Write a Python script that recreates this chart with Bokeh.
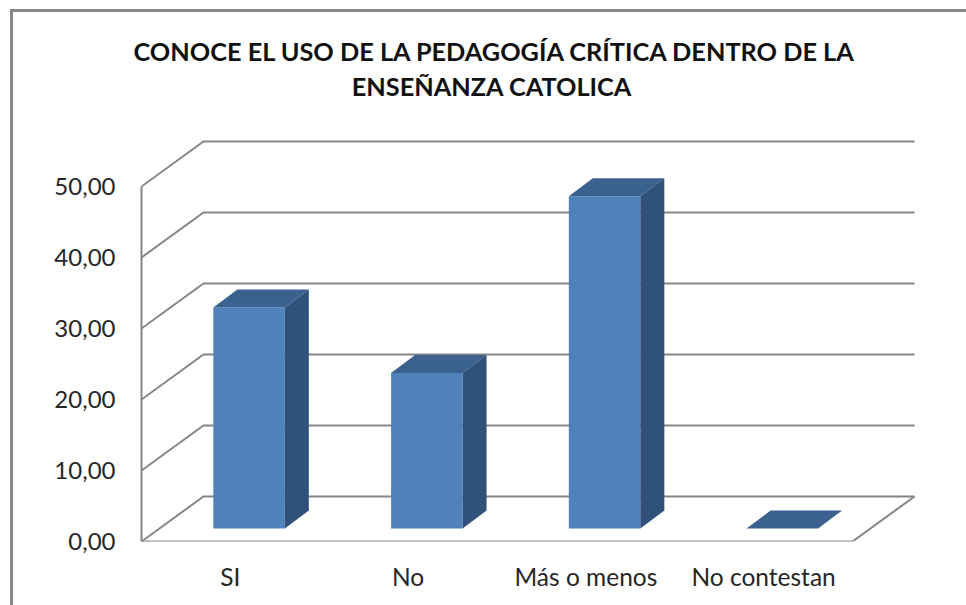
from bokeh.embed import file_html
from bokeh.resources import INLINE
from bokeh.plotting import figure
from bokeh.models import Range1d, FixedTicker, Label, Title

TITLE_LINES = ["CONOCE EL USO DE LA PEDAGOGÍA CRÍTICA DENTRO DE LA", "ENSEÑANZA CATOLICA"]
categories = ["SI", "No", "Más o menos", "No contestan"]
values = [31.11, 21.9, 46.8, 0.0]
y_ticks = [0, 10, 20, 30, 40, 50]
y_labels = ["0,00", "10,00", "20,00", "30,00", "40,00", "50,00"]

PX_X = 177.75      # pixels per category
PX_Y = 7.1         # pixels per value unit
FRAME_TOP = 65
FRAME_W, FRAME_H = 825, 541 - FRAME_TOP
WALL_DX, WALL_DY = 62 / PX_X, 45 / PX_Y   # depth of the 3D box
BAR_DX, BAR_DY = 24 / PX_X, 18 / PX_Y     # depth of a bar
BASE_DX, BASE_DY = 18.7 / PX_X, 13 / PX_Y   # front of the bar vs. front of the floor
BAR_W = 71.5 / PX_X
GRID = "#868686"
FRONT, TOP, SIDE = "#4F81BD", "#3B618F", "#30527A"
TEXT = "#262626"
FONT = "Lato"

n = len(categories)
p = figure(frame_width=FRAME_W, frame_height=FRAME_H,
           x_range=Range1d(0, FRAME_W / PX_X), y_range=Range1d(0, FRAME_H / PX_Y),
           output_backend="svg", toolbar_location=None,
           min_border_left=141, min_border_right=0, min_border_top=FRAME_TOP, min_border_bottom=64,
           background_fill_color=None, border_fill_color="white", outline_line_color=None)
p.xgrid.visible = False
p.ygrid.visible = False

# back wall and side wall gridlines
xs, ys = [], []
for t in y_ticks:
    xs.append([0, WALL_DX, n + WALL_DX])
    ys.append([t, t + WALL_DY, t + WALL_DY])
# floor: front edge and right edge
xs.append([0, n, n + WALL_DX])
ys.append([0, 0, WALL_DY])
p.multi_line(xs, ys, line_color=GRID, line_width=2, line_join="miter")

# bars
lefts = [i + 0.5 + BASE_DX - BAR_W / 2 for i in range(n)]
rights = [l + BAR_W for l in lefts]
bottoms = [BASE_DY] * n
tops = [BASE_DY + v for v in values]
p.quad(left=lefts, right=rights, bottom=bottoms, top=tops, fill_color=FRONT, line_color=None)
p.patches([[l, l + BAR_DX, r + BAR_DX, r] for l, r in zip(lefts, rights)],
          [[t, t + BAR_DY, t + BAR_DY, t] for t in tops],
          fill_color=TOP, line_color=None)
p.patches([[r, r + BAR_DX, r + BAR_DX, r] for r in rights],
          [[b, b + BAR_DY, t + BAR_DY, t] for b, t in zip(bottoms, tops)],
          fill_color=SIDE, line_color=None)

# axes
ya = p.yaxis[0]
ya.ticker = FixedTicker(ticks=y_ticks)
ya.major_label_overrides = dict(zip(y_ticks, y_labels))
ya.bounds = (y_ticks[0], y_ticks[-1])
ya.axis_line_color = GRID
ya.axis_line_width = 2
ya.major_tick_line_color = None
ya.minor_tick_line_color = None
ya.major_label_standoff = 20
ya.major_label_text_font = FONT
ya.major_label_text_font_size = "24px"
ya.major_label_text_color = TEXT

xa = p.xaxis[0]
tick_pos = [i + 0.5 for i in range(n)]
xa.ticker = FixedTicker(ticks=tick_pos)
xa.major_label_overrides = dict(zip(tick_pos, categories))
xa.axis_line_color = None
xa.major_tick_line_color = None
xa.minor_tick_line_color = None
xa.major_label_standoff = 14
xa.major_label_text_font = FONT
xa.major_label_text_font_size = "24.5px"
xa.major_label_text_color = TEXT

# title: the wide first line is a Title (not clipped to the frame), the second a centred Label
p.add_layout(Title(text=TITLE_LINES[0], align="left", offset=-8, standoff=0,
                   text_font=FONT, text_font_size="25.3px", text_font_style="bold",
                   text_color="#111111"), "above")
p.add_layout(Label(x=(491.5 - 141) / PX_X, y=(541 - 85) / PX_Y, text=TITLE_LINES[1],
                   text_align="center", text_baseline="middle",
                   text_font=FONT, text_font_size="25.3px", text_font_style="bold",
                   text_color="#111111"))

# chart border: only the top and left edges lie inside the crop
p.stylesheets = [":host::after{content:'';position:absolute;left:10px;top:9px;right:0;bottom:0;"
                 "border-left:3px solid #868686;border-top:3px solid #868686;pointer-events:none;}"]

open("out.html", "w").write(file_html(p, INLINE))
